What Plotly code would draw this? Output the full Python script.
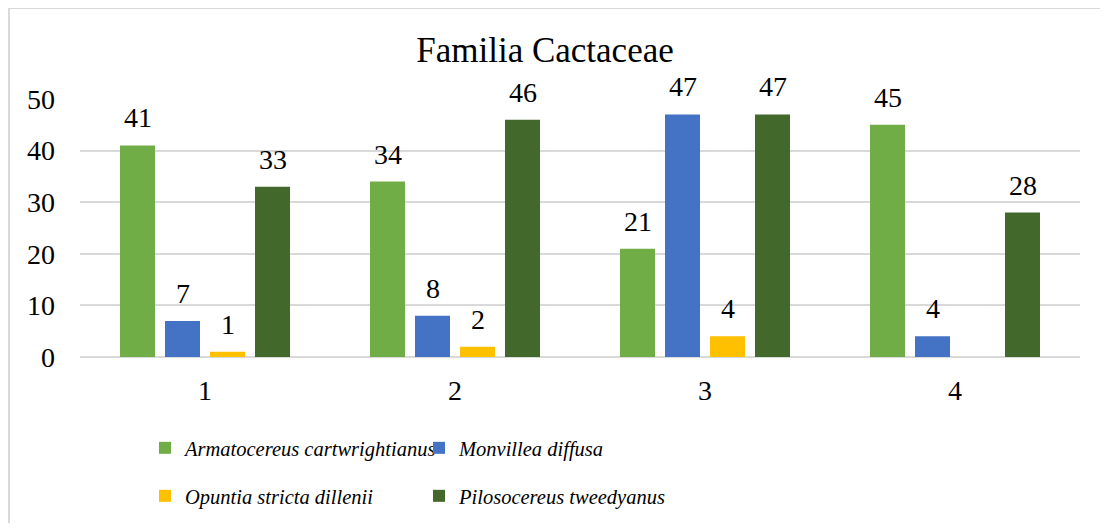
import plotly.graph_objects as go

categories = ["1", "2", "3", "4"]
series_names = [
    "Armatocereus cartwrightianus",
    "Monvillea diffusa",
    "Opuntia stricta dillenii",
    "Pilosocereus tweedyanus",
]
armatocereus = [41, 34, 21, 45]
monvillea = [7, 8, 47, 4]
opuntia = [1, 2, 4, None]
pilosocereus = [33, 46, 47, 28]
colors = ["#70AD47", "#4472C4", "#FFC000", "#43682B"]
legend_ids = ["legend", "legend", "legend2", "legend2"]

# the page body has an 8px margin; screen coords -> figure coords
OFF = 8
W, H = 1100, 515
ML, MR, MT, MB = 72, 28, 91, 166
PW, PH = W - ML - MR, H - MT - MB
FONT = "Liberation Serif, Times New Roman, serif"
BLACK = "#000000"

all_values = [armatocereus, monvillea, opuntia, pilosocereus]

fig = go.Figure()
for name, vals, col, lg in zip(series_names, all_values, colors, legend_ids):
    fig.add_trace(go.Bar(
        x=categories, y=vals, name=name, marker_color=col,
        marker_line_width=0, legend=lg,
    ))

# data labels above bars
BARGAP, GROUPGAP = 0.28, 0.222
slot = (PW / len(categories)) * (1 - BARGAP) / len(series_names)
annotations = []
for i, vals in enumerate(all_values):
    for j, v in enumerate(vals):
        if v is None:
            continue
        annotations.append(dict(
            x=j, y=v, xref="x", yref="y", text=str(v), showarrow=False,
            xshift=(i - (len(series_names) - 1) / 2) * slot, yanchor="bottom", yshift=10,
            font=dict(family=FONT, size=28, color=BLACK),
        ))


def sx(px):  # screen x -> paper x
    return (px - OFF - ML) / PW


def sy(py):  # screen y -> paper y
    return (H - MB - (py - OFF)) / PH


fig.update_layout(
    width=W, height=H,
    margin=dict(l=ML, r=MR, t=MT, b=MB, autoexpand=False),
    paper_bgcolor="white", plot_bgcolor="white",
    barmode="group", bargap=BARGAP, bargroupgap=GROUPGAP,
    title=dict(text="Familia Cactaceae", x=(545 - OFF) / W, xref="container", xanchor="center",
               y=1 - (50 - OFF) / H, yref="container", yanchor="middle",
               font=dict(family=FONT, size=35, color=BLACK)),
    font=dict(family=FONT, color=BLACK),
    xaxis=dict(type="category", showgrid=False, zeroline=False, showline=False,
               ticks="", tickfont=dict(family=FONT, size=28, color=BLACK),
               ticklabelstandoff=14),
    yaxis=dict(range=[0, 50], dtick=10, showgrid=True, gridcolor="#D9D9D9", gridwidth=2,
               zeroline=True, zerolinecolor="#D9D9D9", zerolinewidth=2, showline=False,
               ticks="", tickfont=dict(family=FONT, size=28, color=BLACK),
               ticklabelstandoff=24),
    legend=dict(orientation="h", x=sx(145), xanchor="left", y=sy(448), yanchor="middle",
                entrywidth=229, entrywidthmode="pixels",
                font=dict(family=FONT, size=20.5, color=BLACK, style="italic"),
                bgcolor="rgba(0,0,0,0)", traceorder="normal"),
    legend2=dict(orientation="h", x=sx(145), xanchor="left", y=sy(496), yanchor="middle",
                 entrywidth=229, entrywidthmode="pixels",
                 font=dict(family=FONT, size=20.5, color=BLACK, style="italic"),
                 bgcolor="rgba(0,0,0,0)", traceorder="normal"),
    annotations=annotations,
    shapes=[dict(type="rect", xref="paper", yref="paper",
                 x0=sx(9), x1=sx(1130), y0=sy(560), y1=sy(8),
                 line=dict(color="#D9D9D9", width=2), fillcolor="rgba(0,0,0,0)", layer="below")],
)

fig.write_html("out.html")
